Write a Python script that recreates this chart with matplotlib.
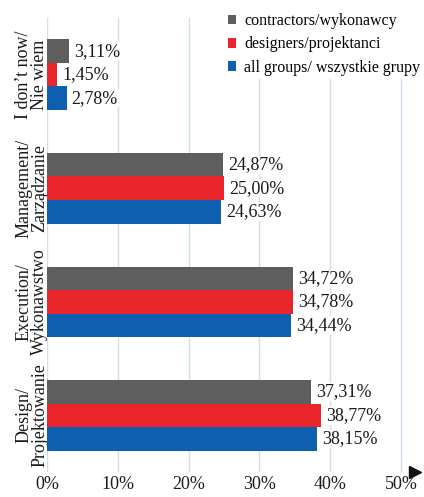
import numpy as np
import matplotlib.pyplot as plt

categories = ["I don\u2019t now/\nNie wiem", "Management/\nZarz\u0105dzanie",
              "Execution/\nWykonawstwo", "Design/\nProjektowanie"]
series = ["contractors/wykonawcy", "designers/projektanci", "all groups/ wszystkie grupy"]
contractors = [3.11, 24.87, 34.72, 37.31]
designers = [1.45, 25.00, 34.78, 38.77]
all_groups = [2.78, 24.63, 34.44, 38.15]
colors = ["#5e5e5e", "#e8262b", "#0f5fb0"]

plt.rcParams["font.family"] = ["Liberation Serif", "DejaVu Serif"]

fig = plt.figure(figsize=(4.24, 4.97), dpi=100)
ax = fig.add_axes([0.111, 0.05, 0.868, 0.914])

y = np.arange(len(categories))
h = 0.207
for i, (vals, name) in enumerate(zip([contractors, designers, all_groups], series)):
    pos = y + (i - 1) * h
    ax.barh(pos, vals, height=h, color=colors[i], label=name, zorder=3)
    for p, v in zip(pos, vals):
        ax.text(v + 0.7, p, ("%.2f%%" % v).replace(".", ","), va="center", ha="left",
                fontsize=13, color="#1a1a1a", zorder=4,
                bbox=dict(facecolor="white", edgecolor="none", pad=0.5))

ax.set_xlim(0, 52)
ax.set_ylim(len(categories) - 0.5, -0.5)
ax.set_xticks(np.arange(0, 51, 10))
ax.set_xticklabels(["%d%%" % t for t in range(0, 51, 10)], fontsize=13, color="#1a1a1a")
ax.set_yticks(y)
ax.set_yticklabels(categories, rotation=90, va="center", ha="center", fontsize=13,
                   color="#1a1a1a", multialignment="center", linespacing=0.95)
ax.tick_params(axis="y", length=0, pad=11)
ax.tick_params(axis="x", length=0, pad=3)
ax.grid(axis="x", color="#cfe0ec", linewidth=1, zorder=0)
for s in ax.spines.values():
    s.set_visible(False)
ax.plot([1.0], [0.0], marker=">", color="#111111", markersize=8,
        transform=ax.transAxes, clip_on=False)

ax.legend(loc="upper right", bbox_to_anchor=(1.045, 1.035), frameon=True, fontsize=11.5,
          handlelength=0.55, handleheight=0.55, handletextpad=0.5, labelspacing=0.45,
          borderpad=0.2, edgecolor="none", facecolor="white", framealpha=1)

fig.savefig("out.png", dpi=100)
